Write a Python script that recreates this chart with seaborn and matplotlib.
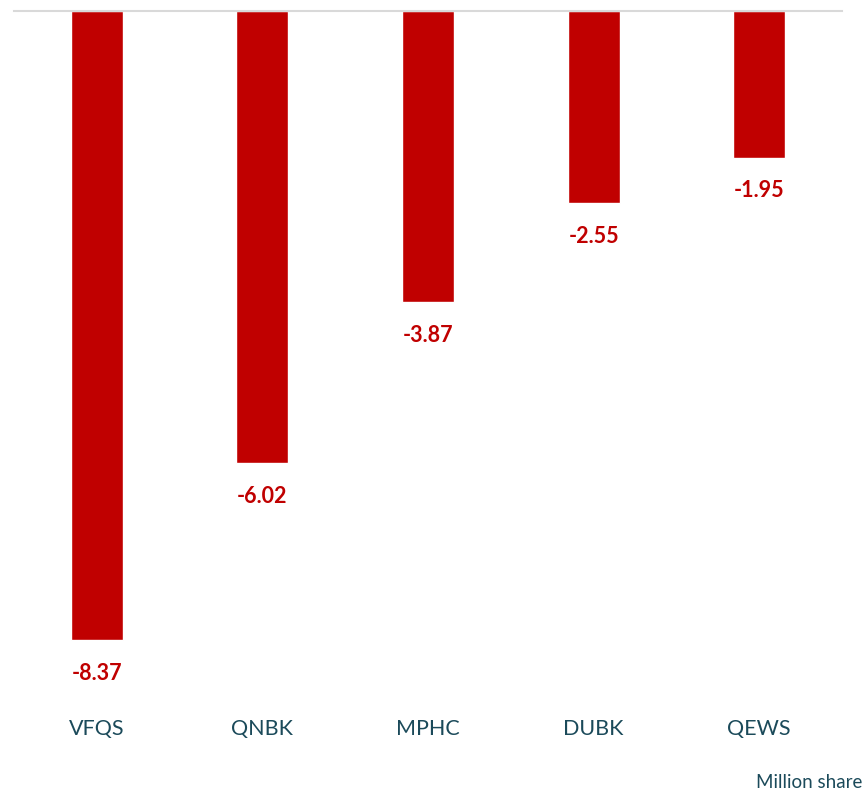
import matplotlib
matplotlib.use("Agg")
import matplotlib.pyplot as plt
import seaborn as sns
import pandas as pd

categories = ["VFQS", "QNBK", "MPHC", "DUBK", "QEWS"]
values = [-8.37, -6.02, -3.87, -2.55, -1.95]
unit_label = "Million share"

sns.set_theme(style="white")
plt.rcParams['font.family'] = ['Lato', 'DejaVu Sans']

W, H = 868, 793
fig = plt.figure(figsize=(W / 100, H / 100), dpi=100)
ax = fig.add_axes([14 / W, (H - 700) / H, 828 / W, (700 - 11) / H])

df = pd.DataFrame({"cat": categories, "val": values})
sns.barplot(data=df, x="cat", y="val", color="#C00000", saturation=1,
            width=0.313, ax=ax)

ax.set_xlim(-0.5, 4.5)
ax.set_ylim(-9.17, 0)
for s in ["left", "right", "bottom"]:
    ax.spines[s].set_visible(False)
ax.spines["top"].set_visible(True)
ax.spines["top"].set_color("#D9D9D9")
ax.spines["top"].set_linewidth(1.5)
ax.set_yticks([])
ax.set_xlabel("")
ax.set_ylabel("")
ax.tick_params(axis="x", length=0, pad=14, labelsize=15.5, labelcolor="#1B4A5A")

for i, v in enumerate(values):
    ax.annotate(f"{v:.2f}", (i, v), xytext=(0, -16.5), textcoords="offset points",
                ha="center", va="top", fontsize=15.5, fontweight="bold",
                color="#C00000")

fig.text(862 / W, 1 - 783 / H, unit_label, ha="right", va="center",
         fontsize=13.5, color="#1B4A5A")

fig.savefig("out.png", dpi=100, facecolor="white")
